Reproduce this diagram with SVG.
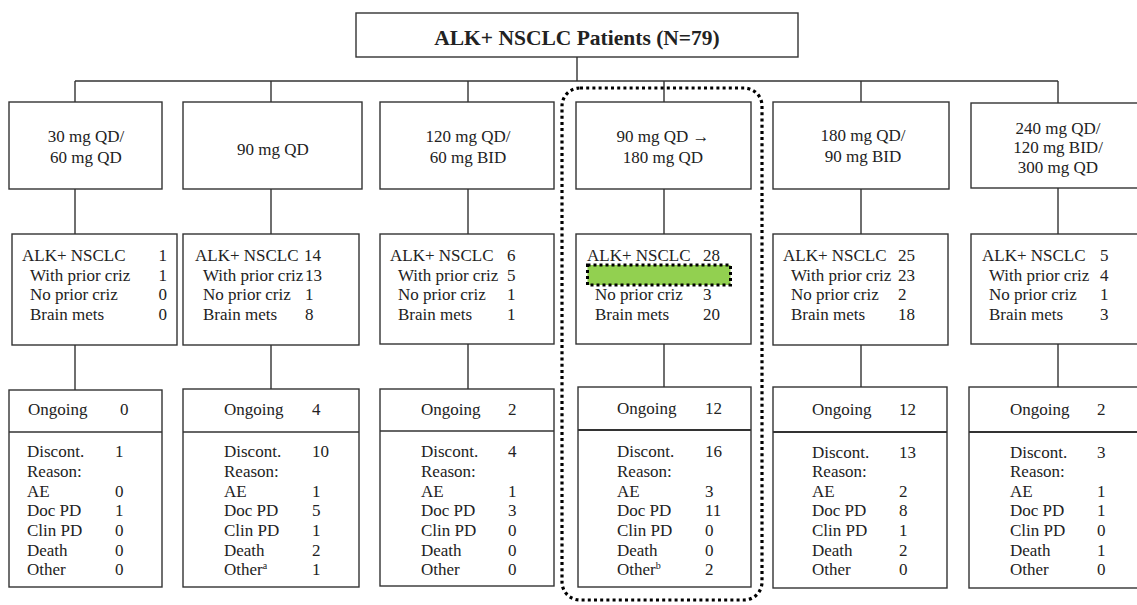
<svg xmlns="http://www.w3.org/2000/svg" width="1137" height="605" viewBox="0 0 1137 605">
<rect width="1137" height="605" fill="#fff"/>
<g id="connectors" fill="none" stroke="#333" stroke-width="1.4">
<path d="M577 57V81M75 81H1058M75 81V102M271 81V102M468 81V102M664 81V102M861 81V102M1058 81V103"/>
<path d="M75 189V234M271 189V234M468 189V234M664 189V234M861 189V234M1058 188V234"/>
<path d="M75 345V390M271 345V389M468 344V389M664 344V387M861 345V387M1058 344V387"/>
</g>
<g id="root">
<rect x="356" y="13" width="442" height="44" fill="#fff" stroke="#333" stroke-width="1.4"/>
<text font-family="Liberation Serif" font-size="21.5" font-weight="bold" fill="#222" text-anchor="middle" x="577" y="45">ALK+ NSCLC Patients (N=79)</text>
</g>
<g id="dose1">
<rect x="9" y="102" width="153" height="87" fill="#fff" stroke="#333" stroke-width="1.4"/>
<text font-family="Liberation Serif" font-size="17" fill="#222" text-anchor="middle" x="86" y="142">30 mg QD/</text>
<text font-family="Liberation Serif" font-size="17" fill="#222" text-anchor="middle" x="86" y="163">60 mg QD</text>
</g>
<g id="dose2">
<rect x="183" y="102" width="179" height="87" fill="#fff" stroke="#333" stroke-width="1.4"/>
<text font-family="Liberation Serif" font-size="17" fill="#222" text-anchor="middle" x="273" y="155">90 mg QD</text>
</g>
<g id="dose3">
<rect x="380" y="102" width="174" height="87" fill="#fff" stroke="#333" stroke-width="1.4"/>
<text font-family="Liberation Serif" font-size="17" fill="#222" text-anchor="middle" x="468" y="142">120 mg QD/</text>
<text font-family="Liberation Serif" font-size="17" fill="#222" text-anchor="middle" x="468" y="163">60 mg BID</text>
</g>
<g id="dose4">
<rect x="576" y="102" width="175" height="87" fill="#fff" stroke="#333" stroke-width="1.4"/>
<text font-family="Liberation Serif" font-size="17" fill="#222" text-anchor="middle" x="663" y="142">90 mg QD →</text>
<text font-family="Liberation Serif" font-size="17" fill="#222" text-anchor="middle" x="663" y="163">180 mg QD</text>
</g>
<g id="dose5">
<rect x="773" y="102" width="176" height="87" fill="#fff" stroke="#333" stroke-width="1.4"/>
<text font-family="Liberation Serif" font-size="17" fill="#222" text-anchor="middle" x="863" y="141">180 mg QD/</text>
<text font-family="Liberation Serif" font-size="17" fill="#222" text-anchor="middle" x="863" y="162">90 mg BID</text>
</g>
<g id="dose6">
<rect x="971" y="103" width="176" height="85" fill="#fff" stroke="#333" stroke-width="1.4"/>
<text font-family="Liberation Serif" font-size="17" fill="#222" text-anchor="middle" x="1058" y="134">240 mg QD/</text>
<text font-family="Liberation Serif" font-size="17" fill="#222" text-anchor="middle" x="1058" y="153">120 mg BID/</text>
<text font-family="Liberation Serif" font-size="17" fill="#222" text-anchor="middle" x="1058" y="173">300 mg QD</text>
</g>
<g id="pop1">
<rect x="12" y="234" width="165" height="111" fill="#fff" stroke="#333" stroke-width="1.4"/>
<text font-family="Liberation Serif" font-size="17" fill="#222" x="22" y="261">ALK+ NSCLC</text><text font-family="Liberation Serif" font-size="17" fill="#222" text-anchor="end" x="167" y="261">1</text>
<text font-family="Liberation Serif" font-size="17" fill="#222" x="30" y="281">With prior criz</text><text font-family="Liberation Serif" font-size="17" fill="#222" text-anchor="end" x="167" y="281">1</text>
<text font-family="Liberation Serif" font-size="17" fill="#222" x="30" y="300">No prior criz</text><text font-family="Liberation Serif" font-size="17" fill="#222" text-anchor="end" x="167" y="300">0</text>
<text font-family="Liberation Serif" font-size="17" fill="#222" x="30" y="320">Brain mets</text><text font-family="Liberation Serif" font-size="17" fill="#222" text-anchor="end" x="167" y="320">0</text>
</g>
<g id="pop2">
<rect x="183" y="234" width="176" height="111" fill="#fff" stroke="#333" stroke-width="1.4"/>
<text font-family="Liberation Serif" font-size="17" fill="#222" x="195" y="261">ALK+ NSCLC</text><text font-family="Liberation Serif" font-size="17" fill="#222" x="304" y="261">14</text>
<text font-family="Liberation Serif" font-size="17" fill="#222" x="203" y="281">With prior criz</text><text font-family="Liberation Serif" font-size="17" fill="#222" x="305" y="281">13</text>
<text font-family="Liberation Serif" font-size="17" fill="#222" x="203" y="300">No prior criz</text><text font-family="Liberation Serif" font-size="17" fill="#222" x="305" y="300">1</text>
<text font-family="Liberation Serif" font-size="17" fill="#222" x="203" y="320">Brain mets</text><text font-family="Liberation Serif" font-size="17" fill="#222" x="305" y="320">8</text>
</g>
<g id="pop3">
<rect x="380" y="234" width="174" height="110" fill="#fff" stroke="#333" stroke-width="1.4"/>
<text font-family="Liberation Serif" font-size="17" fill="#222" x="390" y="261">ALK+ NSCLC</text><text font-family="Liberation Serif" font-size="17" fill="#222" x="507" y="261">6</text>
<text font-family="Liberation Serif" font-size="17" fill="#222" x="398" y="281">With prior criz</text><text font-family="Liberation Serif" font-size="17" fill="#222" x="507" y="281">5</text>
<text font-family="Liberation Serif" font-size="17" fill="#222" x="398" y="300">No prior criz</text><text font-family="Liberation Serif" font-size="17" fill="#222" x="507" y="300">1</text>
<text font-family="Liberation Serif" font-size="17" fill="#222" x="398" y="320">Brain mets</text><text font-family="Liberation Serif" font-size="17" fill="#222" x="507" y="320">1</text>
</g>
<g id="pop4">
<rect x="576" y="234" width="175" height="110" fill="#fff" stroke="#333" stroke-width="1.4"/>
<text font-family="Liberation Serif" font-size="17" fill="#222" x="587" y="261">ALK+ NSCLC</text><text font-family="Liberation Serif" font-size="17" fill="#222" x="703" y="261">28</text>
<text font-family="Liberation Serif" font-size="17" fill="#222" x="595" y="300">No prior criz</text><text font-family="Liberation Serif" font-size="17" fill="#222" x="703" y="300">3</text>
<text font-family="Liberation Serif" font-size="17" fill="#222" x="595" y="320">Brain mets</text><text font-family="Liberation Serif" font-size="17" fill="#222" x="703" y="320">20</text>
<rect x="587.5" y="265" width="143" height="20" fill="#92D050" stroke="#000" stroke-width="3" stroke-dasharray="3 3"/>
</g>
<g id="pop5">
<rect x="773" y="234" width="175" height="111" fill="#fff" stroke="#333" stroke-width="1.4"/>
<text font-family="Liberation Serif" font-size="17" fill="#222" x="783" y="261">ALK+ NSCLC</text><text font-family="Liberation Serif" font-size="17" fill="#222" x="898" y="261">25</text>
<text font-family="Liberation Serif" font-size="17" fill="#222" x="791" y="281">With prior criz</text><text font-family="Liberation Serif" font-size="17" fill="#222" x="898" y="281">23</text>
<text font-family="Liberation Serif" font-size="17" fill="#222" x="791" y="300">No prior criz</text><text font-family="Liberation Serif" font-size="17" fill="#222" x="898" y="300">2</text>
<text font-family="Liberation Serif" font-size="17" fill="#222" x="791" y="320">Brain mets</text><text font-family="Liberation Serif" font-size="17" fill="#222" x="898" y="320">18</text>
</g>
<g id="pop6">
<rect x="971" y="234" width="176" height="110" fill="#fff" stroke="#333" stroke-width="1.4"/>
<text font-family="Liberation Serif" font-size="17" fill="#222" x="982" y="261">ALK+ NSCLC</text><text font-family="Liberation Serif" font-size="17" fill="#222" x="1100" y="261">5</text>
<text font-family="Liberation Serif" font-size="17" fill="#222" x="989" y="281">With prior criz</text><text font-family="Liberation Serif" font-size="17" fill="#222" x="1100" y="281">4</text>
<text font-family="Liberation Serif" font-size="17" fill="#222" x="989" y="300">No prior criz</text><text font-family="Liberation Serif" font-size="17" fill="#222" x="1100" y="300">1</text>
<text font-family="Liberation Serif" font-size="17" fill="#222" x="989" y="320">Brain mets</text><text font-family="Liberation Serif" font-size="17" fill="#222" x="1100" y="320">3</text>
</g>
<g id="out1">
<rect x="9" y="390" width="153" height="197" fill="#fff" stroke="#333" stroke-width="1.4"/>
<path d="M9 432H162" stroke="#333" stroke-width="1.4"/>
<text font-family="Liberation Serif" font-size="17" fill="#222" x="28" y="415">Ongoing</text><text font-family="Liberation Serif" font-size="17" fill="#222" x="120" y="415">0</text>
<text font-family="Liberation Serif" font-size="17" fill="#222" x="27" y="457">Discont.</text><text font-family="Liberation Serif" font-size="17" fill="#222" x="115" y="457">1</text>
<text font-family="Liberation Serif" font-size="17" fill="#222" x="27" y="477">Reason:</text>
<text font-family="Liberation Serif" font-size="17" fill="#222" x="27" y="497">AE</text><text font-family="Liberation Serif" font-size="17" fill="#222" x="115" y="497">0</text>
<text font-family="Liberation Serif" font-size="17" fill="#222" x="27" y="516">Doc PD</text><text font-family="Liberation Serif" font-size="17" fill="#222" x="115" y="516">1</text>
<text font-family="Liberation Serif" font-size="17" fill="#222" x="27" y="536">Clin PD</text><text font-family="Liberation Serif" font-size="17" fill="#222" x="115" y="536">0</text>
<text font-family="Liberation Serif" font-size="17" fill="#222" x="27" y="556">Death</text><text font-family="Liberation Serif" font-size="17" fill="#222" x="115" y="556">0</text>
<text font-family="Liberation Serif" font-size="17" fill="#222" x="27" y="575">Other</text><text font-family="Liberation Serif" font-size="17" fill="#222" x="115" y="575">0</text>
</g>
<g id="out2">
<rect x="183" y="389" width="176" height="198" fill="#fff" stroke="#333" stroke-width="1.4"/>
<path d="M183 432H359" stroke="#333" stroke-width="1.4"/>
<text font-family="Liberation Serif" font-size="17" fill="#222" x="224" y="415">Ongoing</text><text font-family="Liberation Serif" font-size="17" fill="#222" x="312" y="415">4</text>
<text font-family="Liberation Serif" font-size="17" fill="#222" x="224" y="457">Discont.</text><text font-family="Liberation Serif" font-size="17" fill="#222" x="312" y="457">10</text>
<text font-family="Liberation Serif" font-size="17" fill="#222" x="224" y="477">Reason:</text>
<text font-family="Liberation Serif" font-size="17" fill="#222" x="224" y="497">AE</text><text font-family="Liberation Serif" font-size="17" fill="#222" x="312" y="497">1</text>
<text font-family="Liberation Serif" font-size="17" fill="#222" x="224" y="516">Doc PD</text><text font-family="Liberation Serif" font-size="17" fill="#222" x="312" y="516">5</text>
<text font-family="Liberation Serif" font-size="17" fill="#222" x="224" y="536">Clin PD</text><text font-family="Liberation Serif" font-size="17" fill="#222" x="312" y="536">1</text>
<text font-family="Liberation Serif" font-size="17" fill="#222" x="224" y="556">Death</text><text font-family="Liberation Serif" font-size="17" fill="#222" x="312" y="556">2</text>
<text font-family="Liberation Serif" font-size="17" fill="#222" x="224" y="575">Other<tspan font-size="10" dy="-6">a</tspan></text><text font-family="Liberation Serif" font-size="17" fill="#222" x="312" y="575">1</text>
</g>
<g id="out3">
<rect x="380" y="389" width="174" height="197" fill="#fff" stroke="#333" stroke-width="1.4"/>
<path d="M380 431H554" stroke="#333" stroke-width="1.4"/>
<text font-family="Liberation Serif" font-size="17" fill="#222" x="421" y="415">Ongoing</text><text font-family="Liberation Serif" font-size="17" fill="#222" x="508" y="415">2</text>
<text font-family="Liberation Serif" font-size="17" fill="#222" x="421" y="457">Discont.</text><text font-family="Liberation Serif" font-size="17" fill="#222" x="508" y="457">4</text>
<text font-family="Liberation Serif" font-size="17" fill="#222" x="421" y="477">Reason:</text>
<text font-family="Liberation Serif" font-size="17" fill="#222" x="421" y="497">AE</text><text font-family="Liberation Serif" font-size="17" fill="#222" x="508" y="497">1</text>
<text font-family="Liberation Serif" font-size="17" fill="#222" x="421" y="516">Doc PD</text><text font-family="Liberation Serif" font-size="17" fill="#222" x="508" y="516">3</text>
<text font-family="Liberation Serif" font-size="17" fill="#222" x="421" y="536">Clin PD</text><text font-family="Liberation Serif" font-size="17" fill="#222" x="508" y="536">0</text>
<text font-family="Liberation Serif" font-size="17" fill="#222" x="421" y="556">Death</text><text font-family="Liberation Serif" font-size="17" fill="#222" x="508" y="556">0</text>
<text font-family="Liberation Serif" font-size="17" fill="#222" x="421" y="575">Other</text><text font-family="Liberation Serif" font-size="17" fill="#222" x="508" y="575">0</text>
</g>
<g id="out4">
<rect x="578" y="387" width="173" height="200" fill="#fff" stroke="#333" stroke-width="1.4"/>
<path d="M578 430H751" stroke="#333" stroke-width="2"/>
<text font-family="Liberation Serif" font-size="17" fill="#222" x="617" y="414">Ongoing</text><text font-family="Liberation Serif" font-size="17" fill="#222" x="705" y="414">12</text>
<text font-family="Liberation Serif" font-size="17" fill="#222" x="617" y="457">Discont.</text><text font-family="Liberation Serif" font-size="17" fill="#222" x="705" y="457">16</text>
<text font-family="Liberation Serif" font-size="17" fill="#222" x="617" y="477">Reason:</text>
<text font-family="Liberation Serif" font-size="17" fill="#222" x="617" y="497">AE</text><text font-family="Liberation Serif" font-size="17" fill="#222" x="705" y="497">3</text>
<text font-family="Liberation Serif" font-size="17" fill="#222" x="617" y="516">Doc PD</text><text font-family="Liberation Serif" font-size="17" fill="#222" x="705" y="516">11</text>
<text font-family="Liberation Serif" font-size="17" fill="#222" x="617" y="536">Clin PD</text><text font-family="Liberation Serif" font-size="17" fill="#222" x="705" y="536">0</text>
<text font-family="Liberation Serif" font-size="17" fill="#222" x="617" y="556">Death</text><text font-family="Liberation Serif" font-size="17" fill="#222" x="705" y="556">0</text>
<text font-family="Liberation Serif" font-size="17" fill="#222" x="617" y="575">Other<tspan font-size="10" dy="-6">b</tspan></text><text font-family="Liberation Serif" font-size="17" fill="#222" x="705" y="575">2</text>
</g>
<g id="out5">
<rect x="773" y="387" width="174" height="201" fill="#fff" stroke="#333" stroke-width="1.4"/>
<path d="M773 432H947" stroke="#333" stroke-width="2"/>
<text font-family="Liberation Serif" font-size="17" fill="#222" x="812" y="415">Ongoing</text><text font-family="Liberation Serif" font-size="17" fill="#222" x="899" y="415">12</text>
<text font-family="Liberation Serif" font-size="17" fill="#222" x="812" y="458">Discont.</text><text font-family="Liberation Serif" font-size="17" fill="#222" x="899" y="458">13</text>
<text font-family="Liberation Serif" font-size="17" fill="#222" x="812" y="477">Reason:</text>
<text font-family="Liberation Serif" font-size="17" fill="#222" x="812" y="497">AE</text><text font-family="Liberation Serif" font-size="17" fill="#222" x="899" y="497">2</text>
<text font-family="Liberation Serif" font-size="17" fill="#222" x="812" y="516">Doc PD</text><text font-family="Liberation Serif" font-size="17" fill="#222" x="899" y="516">8</text>
<text font-family="Liberation Serif" font-size="17" fill="#222" x="812" y="536">Clin PD</text><text font-family="Liberation Serif" font-size="17" fill="#222" x="899" y="536">1</text>
<text font-family="Liberation Serif" font-size="17" fill="#222" x="812" y="556">Death</text><text font-family="Liberation Serif" font-size="17" fill="#222" x="899" y="556">2</text>
<text font-family="Liberation Serif" font-size="17" fill="#222" x="812" y="575">Other</text><text font-family="Liberation Serif" font-size="17" fill="#222" x="899" y="575">0</text>
</g>
<g id="out6">
<rect x="969" y="387" width="178" height="201" fill="#fff" stroke="#333" stroke-width="1.4"/>
<path d="M969 432H1137" stroke="#333" stroke-width="2"/>
<text font-family="Liberation Serif" font-size="17" fill="#222" x="1010" y="415">Ongoing</text><text font-family="Liberation Serif" font-size="17" fill="#222" x="1097" y="415">2</text>
<text font-family="Liberation Serif" font-size="17" fill="#222" x="1010" y="458">Discont.</text><text font-family="Liberation Serif" font-size="17" fill="#222" x="1097" y="458">3</text>
<text font-family="Liberation Serif" font-size="17" fill="#222" x="1010" y="477">Reason:</text>
<text font-family="Liberation Serif" font-size="17" fill="#222" x="1010" y="497">AE</text><text font-family="Liberation Serif" font-size="17" fill="#222" x="1097" y="497">1</text>
<text font-family="Liberation Serif" font-size="17" fill="#222" x="1010" y="516">Doc PD</text><text font-family="Liberation Serif" font-size="17" fill="#222" x="1097" y="516">1</text>
<text font-family="Liberation Serif" font-size="17" fill="#222" x="1010" y="536">Clin PD</text><text font-family="Liberation Serif" font-size="17" fill="#222" x="1097" y="536">0</text>
<text font-family="Liberation Serif" font-size="17" fill="#222" x="1010" y="556">Death</text><text font-family="Liberation Serif" font-size="17" fill="#222" x="1097" y="556">1</text>
<text font-family="Liberation Serif" font-size="17" fill="#222" x="1010" y="575">Other</text><text font-family="Liberation Serif" font-size="17" fill="#222" x="1097" y="575">0</text>
</g>
<g id="highlight">
<rect x="562" y="88" width="200" height="512" rx="18" fill="none" stroke="#000" stroke-width="3.2" stroke-dasharray="3 3.2"/>
</g>
</svg>
